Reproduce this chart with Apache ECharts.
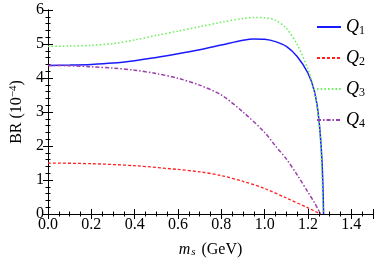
<!DOCTYPE html>
<html><head><meta charset="utf-8">
<script src="https://cdn.jsdelivr.net/npm/echarts@6/dist/echarts.min.js"></script>
<style>html,body{margin:0;padding:0;background:#fff}#c{width:374px;height:263px}</style>
</head><body><div id="c"></div>
<script>
const xTicks = [0.0,0.2,0.4,0.6,0.8,1.0,1.2,1.4];
const yTicks = [0,1,2,3,4,5,6];
const q1X = [0,0.1,0.2,0.3,0.4,0.5,0.6,0.7,0.8,0.9,0.95,1.0,1.05,1.1,1.15,1.2,1.23,1.25,1.265,1.272];
const q1Y = [4.37,4.38,4.40,4.44,4.51,4.60,4.71,4.83,4.97,5.11,5.15,5.14,5.07,4.93,4.63,4.14,3.60,2.80,1.50,0];
const q2X = [0,0.2,0.4,0.6,0.7,0.8,0.9,1.0,1.1,1.2,1.257];
const q2Y = [1.50,1.48,1.42,1.31,1.24,1.13,0.96,0.75,0.47,0.18,0];
const q3X = [0,0.1,0.2,0.3,0.4,0.5,0.6,0.7,0.8,0.9,0.95,1.0,1.05,1.1,1.15,1.2,1.23,1.25,1.26,1.27];
const q3Y = [4.93,4.94,4.96,5.01,5.12,5.25,5.38,5.51,5.64,5.75,5.78,5.77,5.70,5.46,4.99,4.25,3.60,2.75,1.85,0];
const q4X = [0,0.1,0.2,0.3,0.4,0.5,0.6,0.7,0.8,0.9,1.0,1.05,1.1,1.15,1.2,1.23,1.258];
const q4Y = [4.37,4.36,4.33,4.29,4.23,4.13,3.99,3.79,3.50,3.00,2.40,2.00,1.62,1.15,0.64,0.33,0];
const names = ['Q1','Q2','Q3','Q4'];

const pairs = (xs, ys) => xs.map((x, i) => [x, ys[i]]);
const font = 'Liberation Serif';
const fmtX = v => { const t = xTicks.find(a => Math.abs(a - v) < 1e-6); return t === undefined ? '' : t.toFixed(1); };

const baseX = {
  type: 'value', min: 0, max: 1.5, interval: 0.2,
  axisLine: {show: true, lineStyle: {color: '#000', width: 1}},
  axisTick: {show: true, inside: true, length: 5, lineStyle: {color: '#000'}},
  minorTick: {show: true, splitNumber: 4, length: 2.5, lineStyle: {color: '#000'}},
  splitLine: {show: false}, minorSplitLine: {show: false}
};
const baseY = {
  type: 'value', min: 0, max: 6, interval: 1,
  axisLine: {show: true, lineStyle: {color: '#000', width: 1}},
  axisTick: {show: true, inside: true, length: 5, lineStyle: {color: '#000'}},
  minorTick: {show: true, splitNumber: 5, length: 2.5, lineStyle: {color: '#000'}},
  splitLine: {show: false}, minorSplitLine: {show: false}
};

const chart = echarts.init(document.getElementById('c'));
chart.setOption({
  animation: false,
  grid: {left: 39, right: 1, top: 10, bottom: 49},
  xAxis: [
    Object.assign({}, baseX, {
      position: 'bottom',
      axisLabel: {show: true, formatter: fmtX, color: '#000', fontFamily: font, fontSize: 16, margin: 3, showMaxLabel: false},
      name: '{m|m}{s|s} (GeV)', nameLocation: 'middle', nameGap: 27,
      nameTextStyle: {color: '#000', fontFamily: font, fontSize: 16,
        rich: {m: {fontFamily: font, fontSize: 16, fontStyle: 'italic', color: '#000'},
               s: {fontFamily: font, fontSize: 11, fontStyle: 'italic', color: '#000', verticalAlign: 'bottom', padding: [6, 2, 0, 1]}}}
    }),
    Object.assign({}, baseX, {position: 'top', axisLabel: {show: false}})
  ],
  yAxis: [
    Object.assign({}, baseY, {
      position: 'left',
      axisLabel: {show: true, color: '#000', fontFamily: font, fontSize: 16, margin: 4},
      name: 'BR (10{sup|−4})', nameLocation: 'middle', nameGap: 23, nameRotate: 90,
      nameTextStyle: {color: '#000', fontFamily: font, fontSize: 16,
        rich: {sup: {fontFamily: font, fontSize: 11, color: '#000', verticalAlign: 'top', padding: [0, 0, 6, 0]}}}
    }),
    Object.assign({}, baseY, {position: 'right', axisLabel: {show: false}})
  ],
  legend: {
    orient: 'vertical', left: 311, top: 13, itemWidth: 24, itemHeight: 10, itemGap: 12,
    data: names,
    itemStyle: {opacity: 0},
    formatter: n => '{q|Q}{s|' + n.slice(1) + '}',
    textStyle: {color: '#000', fontFamily: font, fontSize: 18,
      rich: {q: {fontFamily: font, fontSize: 18, fontStyle: 'italic', color: '#000'},
             s: {fontFamily: font, fontSize: 12, color: '#000', verticalAlign: 'bottom', padding: [8, 0, 0, 0]}}}
  },
  series: [
    {name: 'Q1', type: 'line', data: pairs(q1X, q1Y), smooth: 0.3, symbol: 'none',
     lineStyle: {color: '#1a1aff', width: 1.5, type: 'solid'}, itemStyle: {color: '#1a1aff'}},
    {name: 'Q2', type: 'line', data: pairs(q2X, q2Y), smooth: 0.3, symbol: 'none',
     lineStyle: {color: '#ff2020', width: 1.3, type: [3, 2]}, itemStyle: {color: '#ff2020'}},
    {name: 'Q3', type: 'line', data: pairs(q3X, q3Y), smooth: 0.3, symbol: 'none',
     lineStyle: {color: '#66ee55', width: 1.5, type: [1.5, 2.2]}, itemStyle: {color: '#66ee55'}},
    {name: 'Q4', type: 'line', data: pairs(q4X, q4Y), smooth: 0.3, symbol: 'none',
     lineStyle: {color: '#9a3fae', width: 1.5, type: [4, 2, 1.5, 2]}, itemStyle: {color: '#9a3fae'}}
  ]
});
</script></body></html>
